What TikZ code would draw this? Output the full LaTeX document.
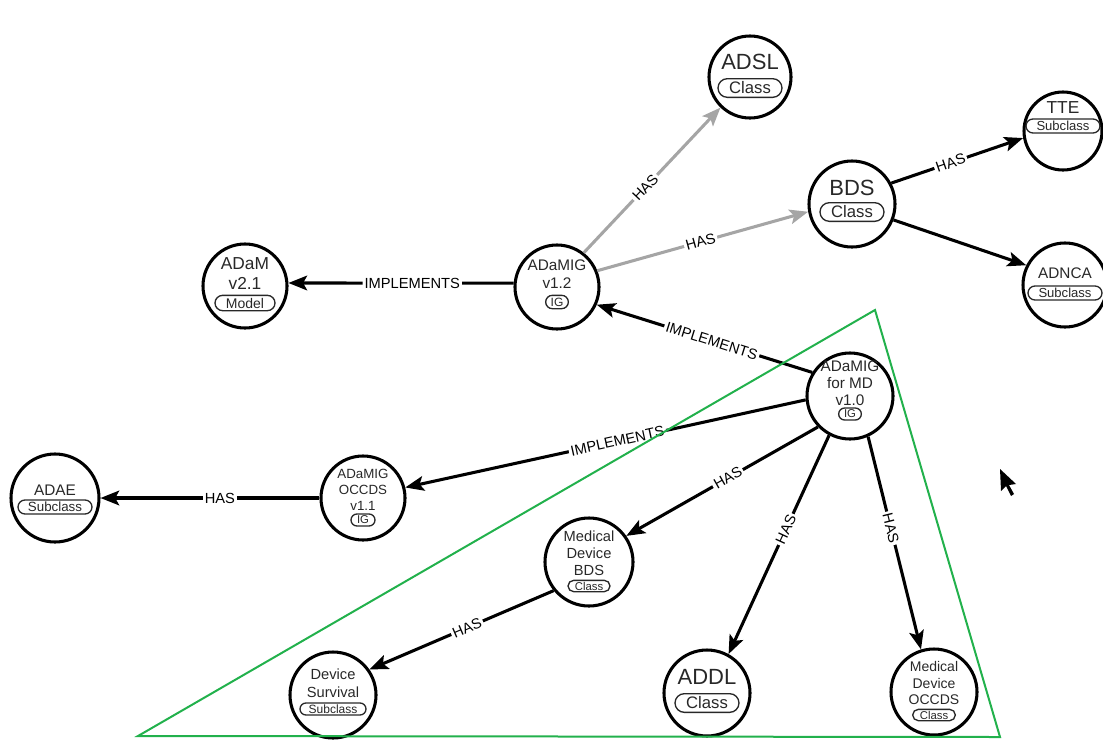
\documentclass[tikz,border=0pt]{standalone}
\usepackage{fontspec}
\setmainfont{Liberation Sans}
\usetikzlibrary{arrows.meta}
\definecolor{edgegray}{RGB}{165,165,165}
\definecolor{txtgray}{RGB}{40,40,40}
\definecolor{trigreen}{RGB}{34,177,76}
\newcommand\fsz[1]{\fontsize{#1}{#1}\selectfont}
\begin{document}
\begin{tikzpicture}[x=0.75pt,y=-0.75pt,
 ent/.style={circle,draw,line width=2.3pt,inner sep=0pt,minimum size=#1},
 ttl/.style={inner sep=0pt,text=txtgray,font=\fsz{#1}},
 pill/.style n args={3}{draw=txtgray,line width=1pt,inner sep=0pt,text=txtgray,font=\fsz{#1},minimum width=#2,minimum height=#3,rounded corners=#3/2},
 arr/.style={line width=2.3pt,-{Stealth[length=14pt,width=11pt,inset=3pt]}},
 garr/.style={arr,draw=edgegray},
 lbl/.style={fill=white,text=black,font=\fsz{11},inner sep=1.5pt,sloped},
 tri/.style={draw=trigreen,line width=1.5pt,line join=miter}]
\useasboundingbox (0,0) rectangle (1103,740);

% ADSL
\node[ent=61.5pt] (adsl) at (750,77) {};
\node[ttl=16.5] (adsl-t) at (750,62) {ADSL};
\node[pill={12.5}{48pt}{14pt}] (adsl-b) at (750,88) {Class};
% BDS
\node[ent=64.5pt] (bds) at (852,204) {};
\node[ttl=16.5] (bds-t) at (852,188) {BDS};
\node[pill={12.5}{48pt}{14pt}] (bds-b) at (852,212) {Class};
% TTE
\node[ent=58.5pt] (tte) at (1063,131) {};
\node[ttl=13] (tte-t) at (1063,108) {TTE};
\node[pill={9.8}{55.5pt}{10.5pt}] (tte-b) at (1063,126) {Subclass};
% ADNCA
\node[ent=63pt] (adnca) at (1065,285) {};
\node[ttl=11.5] (adnca-t) at (1065,273) {ADNCA};
\node[pill={9.8}{55.5pt}{10.5pt}] (adnca-b) at (1065,293) {Subclass};
% ADaM v2.1
\node[ent=63pt] (adam) at (245,286) {};
\node[ttl=13] (adam-1) at (245,264) {ADaM};
\node[ttl=13] (adam-2) at (245,283) {v2.1};
\node[pill={10.5}{45pt}{11.5pt}] (adam-b) at (245,303) {Model};
% ADaMIG v1.2
\node[ent=63pt] (v12) at (557,287) {};
\node[ttl=11.5] (v12-1) at (557,265) {ADaMIG};
\node[ttl=11.5] (v12-2) at (557,283) {v1.2};
\node[pill={9}{17pt}{10pt}] (v12-b) at (557,302) {IG};
% ADaMIG for MD v1.0
\node[ent=64.5pt] (md) at (850,396) {};
\node[ttl=11.5] (md-1) at (850,366) {ADaMIG};
\node[ttl=11.5] (md-2) at (850,383) {for MD};
\node[ttl=11.5] (md-3) at (850,400) {v1.0};
\node[pill={8.5}{17pt}{9pt}] (md-b) at (850,414) {IG};
% ADAE
\node[ent=66pt] (adae) at (55,498) {};
\node[ttl=11.5] (adae-t) at (55,490) {ADAE};
\node[pill={10}{55.5pt}{10.5pt}] (adae-b) at (55,507) {Subclass};
% ADaMIG OCCDS v1.1
\node[ent=63pt] (occds) at (363,498) {};
\node[ttl=10] (occds-1) at (363,474) {ADaMIG};
\node[ttl=10] (occds-2) at (363,490) {OCCDS};
\node[ttl=10] (occds-3) at (363,506) {v1.1};
\node[pill={8.5}{18pt}{9pt}] (occds-b) at (363,520) {IG};
% Medical Device BDS
\node[ent=66pt] (mdbds) at (589,562) {};
\node[ttl=11] (mdbds-1) at (589,536) {Medical};
\node[ttl=11] (mdbds-2) at (589,553) {Device};
\node[ttl=11] (mdbds-3) at (589,570) {BDS};
\node[pill={8.5}{31.5pt}{8.5pt}] (mdbds-b) at (589,586) {Class};
% Device Survival
\node[ent=64.5pt] (devsurv) at (333,695) {};
\node[ttl=11] (devsurv-1) at (333,674) {Device};
\node[ttl=11] (devsurv-2) at (333,692) {Survival};
\node[pill={9}{49.5pt}{9pt}] (devsurv-b) at (333,709) {Subclass};
% ADDL
\node[ent=64.5pt] (addl) at (707,693) {};
\node[ttl=16.5] (addl-t) at (707,677) {ADDL};
\node[pill={12.5}{48pt}{14pt}] (addl-b) at (707,703) {Class};
% Medical Device OCCDS
\node[ent=64.5pt] (mdoccds) at (934,692) {};
\node[ttl=10.5] (mdoccds-1) at (934,666) {Medical};
\node[ttl=10.5] (mdoccds-2) at (934,683) {Device};
\node[ttl=10.5] (mdoccds-3) at (934,700) {OCCDS};
\node[pill={8.5}{32pt}{8.5pt}] (mdoccds-b) at (934,715) {Class};

% connectors
\draw[arr] (v12.175) -- node[lbl,pos=0.45]{IMPLEMENTS} (adam.4);
\draw[garr] (v12.52) -- node[lbl,pos=0.45]{HAS} (adsl.226);
\draw[garr] (v12.22) -- node[lbl,pos=0.49]{HAS} (bds.190);
\draw[arr] (bds.28) -- node[lbl,pos=0.45]{HAS} (tte.190);
\draw[arr] (bds.339) -- (adnca.153);
\draw[arr] (md.148) -- node[lbl,pos=0.466]{IMPLEMENTS} (v12.336);
\draw[arr] (md.185) -- node[lbl,pos=0.47]{IMPLEMENTS} (occds.14);
\draw[arr] (occds.180) -- node[lbl,pos=0.455]{HAS} (adae.0);
\draw[arr] (md.224) -- node[lbl,pos=0.47]{HAS} (mdbds.35);
\draw[arr] (md.242) -- node[lbl,pos=0.43]{HAS} (addl.61);
\draw[arr] (md.294) -- node[lbl,pos=0.43]{HAS} (mdoccds.107);
\draw[arr] (mdbds.219) -- node[lbl,pos=0.47]{HAS} (devsurv.35);

% green triangle
\draw[tri] (138,736) -- (875,310) -- (1000,737) -- cycle;

% mouse pointer
\fill (1000,469) -- (1001,491) -- (1006,486) -- (1011,496) -- (1014,494) -- (1009,485) -- (1016,484) -- cycle;
\end{tikzpicture}
\end{document}
